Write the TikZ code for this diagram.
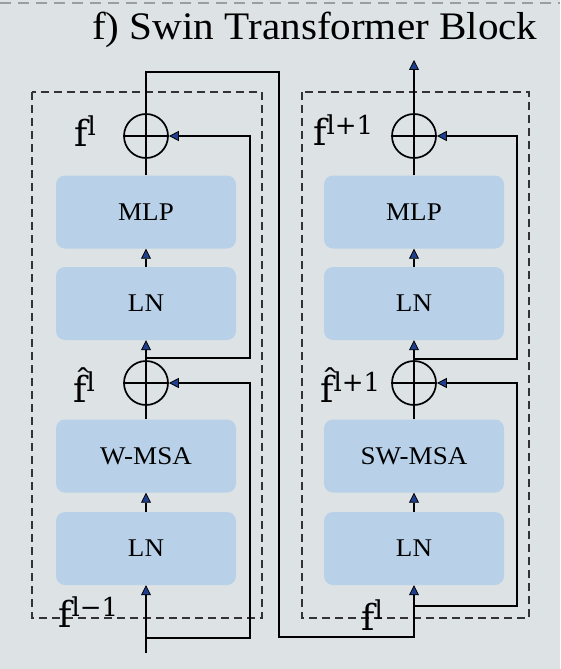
\documentclass[tikz,border=0pt]{standalone}
\usepackage{fontspec}
\setmainfont{Liberation Serif}[FakeStretch=1.06]
\newfontfamily\titlefont{Liberation Serif}[FakeStretch=1.055]
\newfontfamily\featfont{DejaVu Serif}
\usetikzlibrary{arrows.meta, positioning, calc}
\definecolor{sbg}{HTML}{DDE3E5}
\definecolor{sblue}{HTML}{B8D1E8}
\definecolor{snavy}{HTML}{1F3F8F}
\definecolor{sframe}{HTML}{333333}
\definecolor{sgray}{HTML}{9A9EA0}
\tikzset{
  layer/.style={fill=sblue, rounded corners=9pt, minimum width=180pt,
                minimum height=73pt, inner sep=0pt, font=\fontsize{25.5}{28}\selectfont},
  addop/.style={circle, draw, line width=1.7pt, minimum size=44pt, inner sep=0pt,
                path picture={\draw[line width=1.7pt]
                  (path picture bounding box.north) -- (path picture bounding box.south)
                  (path picture bounding box.west) -- (path picture bounding box.east);}},
  flow/.style={line width=2pt, black},
  arr/.style={flow, -{Triangle[length=10pt, width=10pt, fill=snavy, line width=0.8pt]}},
  blockframe/.style={draw=sframe, line width=1.8pt, dash pattern=on 8pt off 5pt},
  flabel/.style={anchor=base west, inner sep=0pt},
}
\newcommand{\flab}[1]{{\featfont\fontsize{36}{36}\selectfont f}\raisebox{11pt}{\featfont\fontsize{26}{26}\selectfont #1}}
\newcommand{\fhat}[1]{{\featfont\fontsize{36}{36}\selectfont \^{f}}\raisebox{11pt}{\featfont\fontsize{26}{26}\selectfont #1}}

\begin{document}
\begin{tikzpicture}[x=1pt, y=-1pt]
  \useasboundingbox[fill=sbg] (0,0) rectangle (560,669);

  %% top separator and title
  \draw[sgray, line width=1.5pt, dash pattern=on 11pt off 7pt] (0,3) -- (560,3);
  \node[anchor=base west, inner sep=0pt, font=\titlefont\fontsize{39}{40}\selectfont] (title) at (92,40) {f) Swin Transformer Block};

  %% block frames
  \draw[blockframe] (32,92) rectangle (262,618);
  \draw[blockframe] (302,92) rectangle (529,618);

  %% W-MSA block
  \node[layer] (lnA) at (146,548.5) {LN};
  \node[layer] (wmsa) at (146,456) {W-MSA};
  \node[layer] (lnB) at (146,303.5) {LN};
  \node[layer] (mlpA) at (146,212) {MLP};
  \node[addop] (addA) at (146,383) {};
  \node[addop] (addB) at (146,136) {};
  %% SW-MSA block
  \node[layer] (lnC) at (414,548.5) {LN};
  \node[layer] (swmsa) at (414,456) {SW-MSA};
  \node[layer] (lnD) at (414,303.5) {LN};
  \node[layer] (mlpB) at (414,212) {MLP};
  \node[addop] (addC) at (414,383) {};
  \node[addop] (addD) at (414,136) {};

  \coordinate (inA) at (146,653);
  \coordinate (skipA) at (146,638);
  \coordinate (skipB) at (146,358);
  \coordinate (inC) at (414,637);
  \coordinate (skipC) at (414,606);
  \coordinate (skipD) at (414,359);
  \coordinate (out) at (414,60);

  %% left flow
  \draw[arr] (inA) -- (lnA.south);
  \draw[arr] (skipA) -| (250,383) -- (addA.east);
  \draw[arr] (lnA) -- (wmsa);
  \draw[flow] (wmsa) -- (addA);
  \draw[arr] (addA) -- (lnB);
  \draw[arr] (skipB) -| (250,136) -- (addB.east);
  \draw[arr] (lnB) -- (mlpA);
  \draw[flow] (mlpA) -- (addB);
  \draw[arr] (addB.north) |- (279,72) |- (inC) -- (lnC.south);
  %% right flow
  \draw[arr] (skipC) -| (517,383) -- (addC.east);
  \draw[arr] (lnC) -- (swmsa);
  \draw[flow] (swmsa) -- (addC);
  \draw[arr] (addC) -- (lnD);
  \draw[arr] (skipD) -| (517,136) -- (addD.east);
  \draw[arr] (lnD) -- (mlpB);
  \draw[flow] (mlpB) -- (addD);
  \draw[arr] (addD) -- (out);

  %% feature labels
  \node[flabel] (fA) at (74,146) {\flab{l}};
  \node[flabel] (fhatA) at (73,402) {\fhat{l}};
  \node[flabel] (fin) at (58,627) {\flab{l−1}};
  \node[flabel] (fB) at (313,145) {\flab{l+1}};
  \node[flabel] (fhatB) at (320,402) {\fhat{l+1}};
  \node[flabel] (fmid) at (361,630) {\flab{l}};
\end{tikzpicture}
\end{document}
